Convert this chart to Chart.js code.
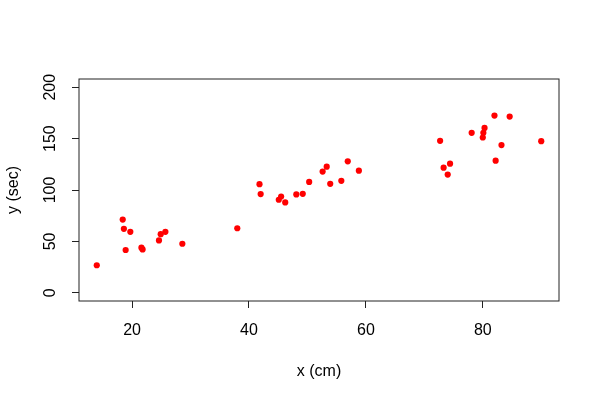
<!DOCTYPE html>
<html>
<head>
<meta charset="utf-8">
<script src="https://cdn.jsdelivr.net/npm/chart.js@4"></script>
<style>
  html, body { margin: 0; padding: 0; background: #fff; }
  #wrap { width: 600px; height: 400px; }
</style>
</head>
<body>
<div id="wrap"><canvas id="c" width="600" height="400"></canvas></div>
<script>
// values
const xs = [13.96, 18.4, 18.6, 19.7, 18.9, 21.6, 21.8, 24.6, 24.9, 25.7,
            28.6, 38.0, 41.8, 42.0, 45.1, 45.5, 46.2, 48.1, 49.2, 50.3,
            52.6, 53.3, 53.9, 55.8, 56.9, 58.8, 72.7, 73.3, 74.0, 74.4,
            78.1, 80.0, 80.1, 80.3, 82.0, 82.2, 83.2, 84.6, 90.0];
const ys = [26.8, 71.2, 62.2, 59.3, 41.6, 43.9, 42.2, 50.9, 57.0, 59.3,
            47.7, 62.8, 105.7, 96.0, 90.5, 93.7, 87.9, 95.7, 96.3, 107.9,
            117.9, 122.7, 106.0, 108.9, 127.9, 118.8, 147.8, 121.7, 115.0, 125.6,
            155.6, 151.1, 155.6, 160.4, 172.4, 128.5, 143.7, 171.4, 147.5];
const xTicks = [20, 40, 60, 80];
const yTicks = [0, 50, 100, 150, 200];

const FONT = 'Liberation Sans, Arial, Helvetica, sans-serif';

// R-style box around the plot region
const boxPlugin = {
  id: 'box',
  afterDraw(chart) {
    const { ctx, chartArea: a } = chart;
    ctx.save();
    ctx.strokeStyle = '#222';
    ctx.lineWidth = 1;
    ctx.strokeRect(a.left, a.top, a.right - a.left, a.bottom - a.top);
    ctx.restore();
  }
};

new Chart(document.getElementById('c'), {
  type: 'scatter',
  data: {
    datasets: [{
      data: xs.map((x, i) => ({ x: x, y: ys[i] })),
      backgroundColor: '#ff0000',
      borderColor: '#ff0000',
      pointRadius: 3.1,
      pointBorderWidth: 0
    }]
  },
  options: {
    responsive: false,
    animation: false,
    layout: { padding: { left: 0, top: 79, right: 41, bottom: 0 } },
    plugins: { legend: { display: false }, tooltip: { enabled: false } },
    scales: {
      x: {
        type: 'linear',
        min: 10.92,
        max: 93.04,
        afterBuildTicks: (s) => { s.ticks = xTicks.map(v => ({ value: v })); },
        afterFit: (s) => { s.height = 99; },
        grid: { display: true, drawOnChartArea: false, tickLength: 7, color: '#222' },
        border: { display: false },
        ticks: { color: '#000', font: { family: FONT, size: 16 }, padding: 13, maxRotation: 0 },
        title: { display: true, text: 'x (cm)', color: '#000', font: { family: FONT, size: 16 }, padding: { bottom: 19 } }
      },
      y: {
        type: 'linear',
        min: -8,
        max: 208,
        afterBuildTicks: (s) => { s.ticks = yTicks.map(v => ({ value: v })); },
        afterFit: (s) => { s.width = 79; },
        grid: { display: true, drawOnChartArea: false, tickLength: 7, color: '#222' },
        border: { display: false },
        ticks: { color: '#000', font: { family: FONT, size: 16 }, padding: 8.4, crossAlign: 'center', minRotation: 90, maxRotation: 90 },
        title: { display: true, text: 'y (sec)', color: '#000', font: { family: FONT, size: 16 }, padding: { top: 3.5 } }
      }
    }
  },
  plugins: [boxPlugin]
});
</script>
</body>
</html>
